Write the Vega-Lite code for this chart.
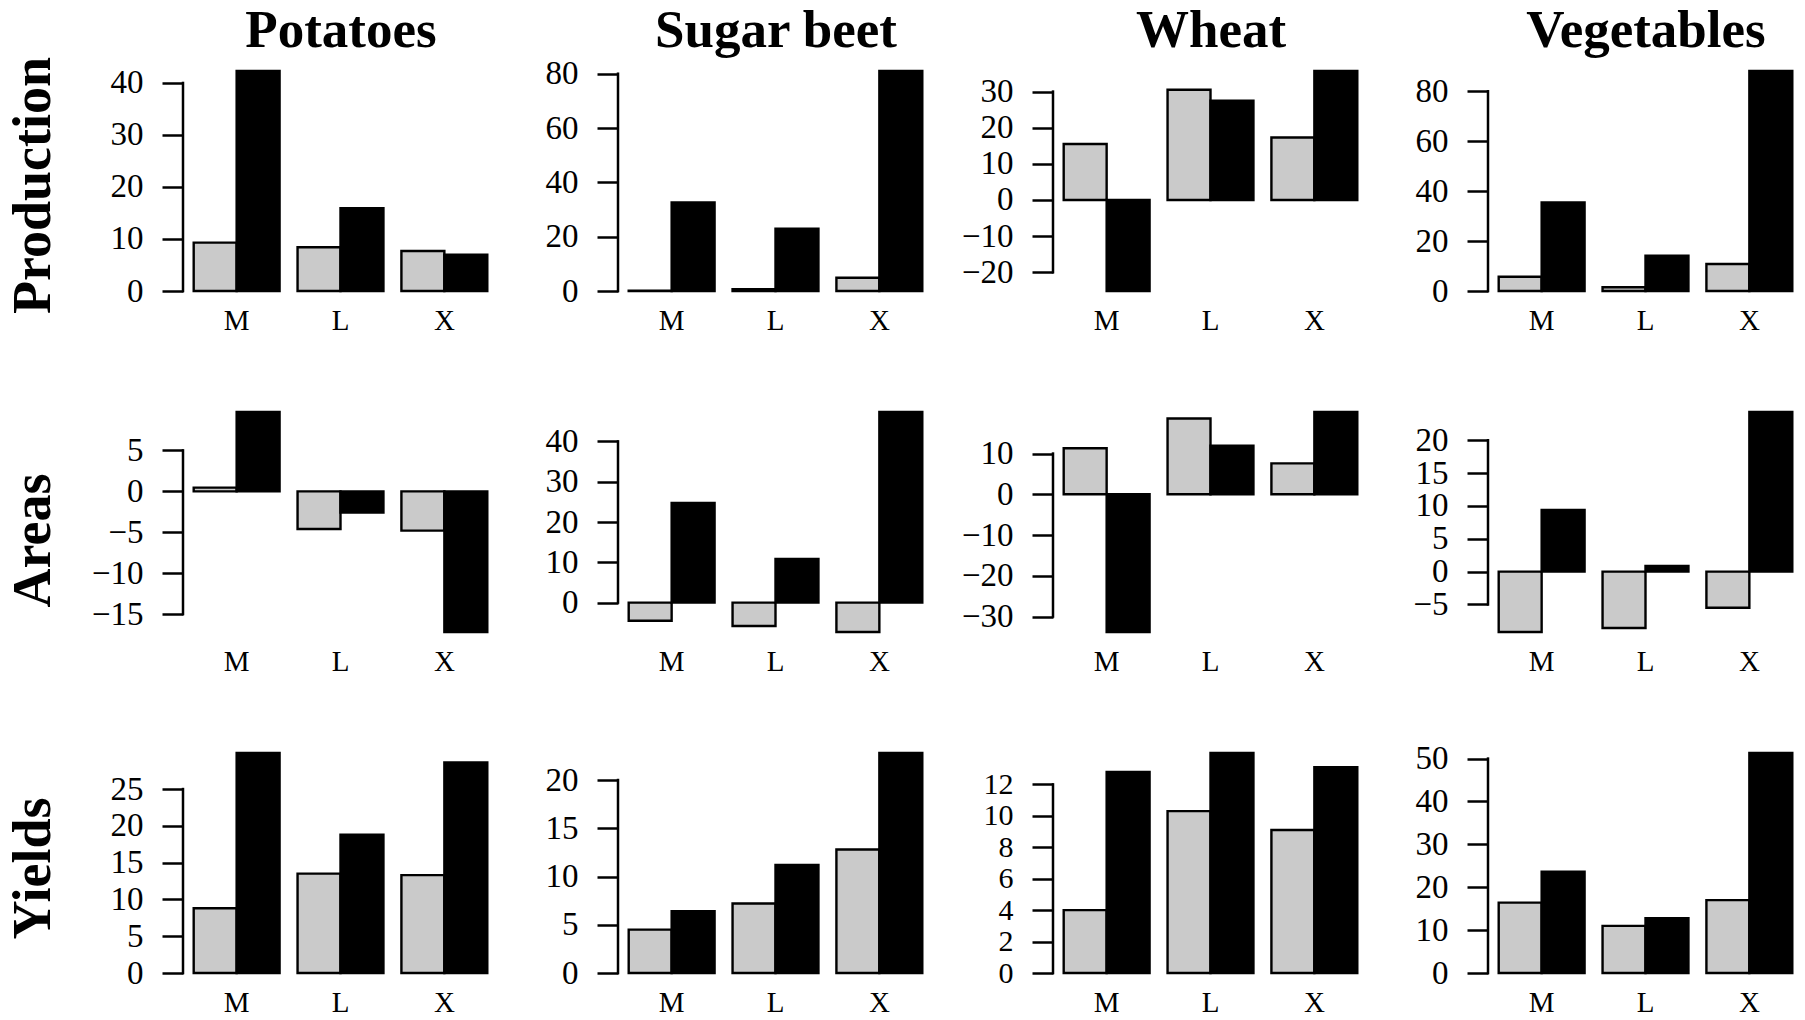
{
  "$schema": "https://vega.github.io/schema/vega-lite/v6.json",
  "padding": {"left": 5, "top": 4, "right": 0, "bottom": 0},
  "background": "white",
  "data": {
    "values": [
      {"crop": "Potatoes", "measure": "Production", "group": "M", "series": "A", "value": 9.3},
      {"crop": "Potatoes", "measure": "Production", "group": "M", "series": "B", "value": 42.3},
      {"crop": "Potatoes", "measure": "Production", "group": "L", "series": "A", "value": 8.4},
      {"crop": "Potatoes", "measure": "Production", "group": "L", "series": "B", "value": 15.9},
      {"crop": "Potatoes", "measure": "Production", "group": "X", "series": "A", "value": 7.7},
      {"crop": "Potatoes", "measure": "Production", "group": "X", "series": "B", "value": 7.0},
      {"crop": "Sugar beet", "measure": "Production", "group": "M", "series": "A", "value": 0.1},
      {"crop": "Sugar beet", "measure": "Production", "group": "M", "series": "B", "value": 32.6},
      {"crop": "Sugar beet", "measure": "Production", "group": "L", "series": "A", "value": 0.7},
      {"crop": "Sugar beet", "measure": "Production", "group": "L", "series": "B", "value": 22.9},
      {"crop": "Sugar beet", "measure": "Production", "group": "X", "series": "A", "value": 4.9},
      {"crop": "Sugar beet", "measure": "Production", "group": "X", "series": "B", "value": 81.0},
      {"crop": "Wheat", "measure": "Production", "group": "M", "series": "A", "value": 15.5},
      {"crop": "Wheat", "measure": "Production", "group": "M", "series": "B", "value": -25.2},
      {"crop": "Wheat", "measure": "Production", "group": "L", "series": "A", "value": 30.5},
      {"crop": "Wheat", "measure": "Production", "group": "L", "series": "B", "value": 27.5},
      {"crop": "Wheat", "measure": "Production", "group": "X", "series": "A", "value": 17.3},
      {"crop": "Wheat", "measure": "Production", "group": "X", "series": "B", "value": 35.7},
      {"crop": "Vegetables", "measure": "Production", "group": "M", "series": "A", "value": 5.7},
      {"crop": "Vegetables", "measure": "Production", "group": "M", "series": "B", "value": 35.5},
      {"crop": "Vegetables", "measure": "Production", "group": "L", "series": "A", "value": 1.5},
      {"crop": "Vegetables", "measure": "Production", "group": "L", "series": "B", "value": 14.1},
      {"crop": "Vegetables", "measure": "Production", "group": "X", "series": "A", "value": 10.8},
      {"crop": "Vegetables", "measure": "Production", "group": "X", "series": "B", "value": 88.1},
      {"crop": "Potatoes", "measure": "Areas", "group": "M", "series": "A", "value": 0.45},
      {"crop": "Potatoes", "measure": "Areas", "group": "M", "series": "B", "value": 9.7},
      {"crop": "Potatoes", "measure": "Areas", "group": "L", "series": "A", "value": -4.6},
      {"crop": "Potatoes", "measure": "Areas", "group": "L", "series": "B", "value": -2.6},
      {"crop": "Potatoes", "measure": "Areas", "group": "X", "series": "A", "value": -4.8},
      {"crop": "Potatoes", "measure": "Areas", "group": "X", "series": "B", "value": -17.2},
      {"crop": "Sugar beet", "measure": "Areas", "group": "M", "series": "A", "value": -4.5},
      {"crop": "Sugar beet", "measure": "Areas", "group": "M", "series": "B", "value": 24.7},
      {"crop": "Sugar beet", "measure": "Areas", "group": "L", "series": "A", "value": -5.8},
      {"crop": "Sugar beet", "measure": "Areas", "group": "L", "series": "B", "value": 10.8},
      {"crop": "Sugar beet", "measure": "Areas", "group": "X", "series": "A", "value": -7.3},
      {"crop": "Sugar beet", "measure": "Areas", "group": "X", "series": "B", "value": 47.3},
      {"crop": "Wheat", "measure": "Areas", "group": "M", "series": "A", "value": 11.3},
      {"crop": "Wheat", "measure": "Areas", "group": "M", "series": "B", "value": -33.8},
      {"crop": "Wheat", "measure": "Areas", "group": "L", "series": "A", "value": 18.6},
      {"crop": "Wheat", "measure": "Areas", "group": "L", "series": "B", "value": 11.9},
      {"crop": "Wheat", "measure": "Areas", "group": "X", "series": "A", "value": 7.6},
      {"crop": "Wheat", "measure": "Areas", "group": "X", "series": "B", "value": 20.2},
      {"crop": "Vegetables", "measure": "Areas", "group": "M", "series": "A", "value": -9.2},
      {"crop": "Vegetables", "measure": "Areas", "group": "M", "series": "B", "value": 9.4},
      {"crop": "Vegetables", "measure": "Areas", "group": "L", "series": "A", "value": -8.6},
      {"crop": "Vegetables", "measure": "Areas", "group": "L", "series": "B", "value": 0.85},
      {"crop": "Vegetables", "measure": "Areas", "group": "X", "series": "A", "value": -5.5},
      {"crop": "Vegetables", "measure": "Areas", "group": "X", "series": "B", "value": 24.3},
      {"crop": "Potatoes", "measure": "Yields", "group": "M", "series": "A", "value": 8.8},
      {"crop": "Potatoes", "measure": "Yields", "group": "M", "series": "B", "value": 29.9},
      {"crop": "Potatoes", "measure": "Yields", "group": "L", "series": "A", "value": 13.5},
      {"crop": "Potatoes", "measure": "Yields", "group": "L", "series": "B", "value": 18.8},
      {"crop": "Potatoes", "measure": "Yields", "group": "X", "series": "A", "value": 13.3},
      {"crop": "Potatoes", "measure": "Yields", "group": "X", "series": "B", "value": 28.6},
      {"crop": "Sugar beet", "measure": "Yields", "group": "M", "series": "A", "value": 4.5},
      {"crop": "Sugar beet", "measure": "Yields", "group": "M", "series": "B", "value": 6.4},
      {"crop": "Sugar beet", "measure": "Yields", "group": "L", "series": "A", "value": 7.2},
      {"crop": "Sugar beet", "measure": "Yields", "group": "L", "series": "B", "value": 11.2},
      {"crop": "Sugar beet", "measure": "Yields", "group": "X", "series": "A", "value": 12.8},
      {"crop": "Sugar beet", "measure": "Yields", "group": "X", "series": "B", "value": 22.8},
      {"crop": "Wheat", "measure": "Yields", "group": "M", "series": "A", "value": 4.0},
      {"crop": "Wheat", "measure": "Yields", "group": "M", "series": "B", "value": 12.8},
      {"crop": "Wheat", "measure": "Yields", "group": "L", "series": "A", "value": 10.3},
      {"crop": "Wheat", "measure": "Yields", "group": "L", "series": "B", "value": 14.0},
      {"crop": "Wheat", "measure": "Yields", "group": "X", "series": "A", "value": 9.1},
      {"crop": "Wheat", "measure": "Yields", "group": "X", "series": "B", "value": 13.1},
      {"crop": "Vegetables", "measure": "Yields", "group": "M", "series": "A", "value": 16.4},
      {"crop": "Vegetables", "measure": "Yields", "group": "M", "series": "B", "value": 23.6},
      {"crop": "Vegetables", "measure": "Yields", "group": "L", "series": "A", "value": 11.0},
      {"crop": "Vegetables", "measure": "Yields", "group": "L", "series": "B", "value": 12.8},
      {"crop": "Vegetables", "measure": "Yields", "group": "X", "series": "A", "value": 17.0},
      {"crop": "Vegetables", "measure": "Yields", "group": "X", "series": "B", "value": 51.3}
    ]
  },
  "columns": 4,
  "align": "all",
  "spacing": {"row": 66, "column": 28},
  "concat": [
    {
      "width": 315, "height": 220,
      "layer": [
        {
          "transform": [{"filter": "datum.crop === 'Potatoes' && datum.measure === 'Production'"}],
          "mark": {"type": "bar", "stroke": "black", "strokeWidth": 2.4},
          "encoding": {
            "x": {"field": "group", "type": "nominal", "sort": ["M", "L", "X"], "scale": {"paddingInner": 0.173, "paddingOuter": 0.103}, "axis": {"title": null}},
            "xOffset": {"field": "series", "type": "nominal", "sort": ["A", "B"]},
            "y": {"field": "value", "type": "quantitative", "scale": {"nice": false, "zero": true},
                  "axis": {"values": [0, 10, 20, 30, 40], "title": "Production", "titleX": -134, "titleY": 114, "titleAngle": 270, "titleBaseline": "alphabetic", "titleAlign": "center"}},
            "fill": {"field": "series", "type": "nominal", "scale": {"domain": ["A", "B"], "range": ["#cacaca", "#000000"]}, "legend": null}
          }
        },
        {
          "data": {"values": [{}]},
          "mark": {"type": "rule", "stroke": "black", "strokeWidth": 2.5, "strokeCap": "square"},
          "encoding": {
            "x": {"datum": 0, "type": "quantitative", "scale": {"domain": [0, 1]},
                  "axis": {"orient": "top", "title": "Potatoes", "labels": false, "ticks": false, "domain": false, "titleFontSize": 53, "titleFontWeight": "bold", "titleBaseline": "alphabetic", "titleY": -25, "titlePadding": 0}},
            "y": {"datum": 0, "type": "quantitative"},
            "y2": {"datum": 40}
          }
        }
      ],
      "resolve": {"scale": {"x": "independent"}}
    },
    {
      "width": 315, "height": 220,
      "layer": [
        {
          "transform": [{"filter": "datum.crop === 'Sugar beet' && datum.measure === 'Production'"}],
          "mark": {"type": "bar", "stroke": "black", "strokeWidth": 2.4},
          "encoding": {
            "x": {"field": "group", "type": "nominal", "sort": ["M", "L", "X"], "scale": {"paddingInner": 0.173, "paddingOuter": 0.103}, "axis": {"title": null}},
            "xOffset": {"field": "series", "type": "nominal", "sort": ["A", "B"]},
            "y": {"field": "value", "type": "quantitative", "scale": {"nice": false, "zero": true}, "axis": {"values": [0, 20, 40, 60, 80], "title": null}},
            "fill": {"field": "series", "type": "nominal", "scale": {"domain": ["A", "B"], "range": ["#cacaca", "#000000"]}, "legend": null}
          }
        },
        {
          "data": {"values": [{}]},
          "mark": {"type": "rule", "stroke": "black", "strokeWidth": 2.5, "strokeCap": "square"},
          "encoding": {
            "x": {"datum": 0, "type": "quantitative", "scale": {"domain": [0, 1]},
                  "axis": {"orient": "top", "title": "Sugar beet", "labels": false, "ticks": false, "domain": false, "titleFontSize": 53, "titleFontWeight": "bold", "titleBaseline": "alphabetic", "titleY": -25, "titlePadding": 0}},
            "y": {"datum": 0, "type": "quantitative"},
            "y2": {"datum": 80}
          }
        }
      ],
      "resolve": {"scale": {"x": "independent"}}
    },
    {
      "width": 315, "height": 220,
      "layer": [
        {
          "transform": [{"filter": "datum.crop === 'Wheat' && datum.measure === 'Production'"}],
          "mark": {"type": "bar", "stroke": "black", "strokeWidth": 2.4},
          "encoding": {
            "x": {"field": "group", "type": "nominal", "sort": ["M", "L", "X"], "scale": {"paddingInner": 0.173, "paddingOuter": 0.103}, "axis": {"title": null}},
            "xOffset": {"field": "series", "type": "nominal", "sort": ["A", "B"]},
            "y": {"field": "value", "type": "quantitative", "scale": {"nice": false, "zero": true}, "axis": {"values": [-20, -10, 0, 10, 20, 30], "title": null}},
            "fill": {"field": "series", "type": "nominal", "scale": {"domain": ["A", "B"], "range": ["#cacaca", "#000000"]}, "legend": null}
          }
        },
        {
          "data": {"values": [{}]},
          "mark": {"type": "rule", "stroke": "black", "strokeWidth": 2.5, "strokeCap": "square"},
          "encoding": {
            "x": {"datum": 0, "type": "quantitative", "scale": {"domain": [0, 1]},
                  "axis": {"orient": "top", "title": "Wheat", "labels": false, "ticks": false, "domain": false, "titleFontSize": 53, "titleFontWeight": "bold", "titleBaseline": "alphabetic", "titleY": -25, "titlePadding": 0}},
            "y": {"datum": -20, "type": "quantitative"},
            "y2": {"datum": 30}
          }
        }
      ],
      "resolve": {"scale": {"x": "independent"}}
    },
    {
      "width": 315, "height": 220,
      "layer": [
        {
          "transform": [{"filter": "datum.crop === 'Vegetables' && datum.measure === 'Production'"}],
          "mark": {"type": "bar", "stroke": "black", "strokeWidth": 2.4},
          "encoding": {
            "x": {"field": "group", "type": "nominal", "sort": ["M", "L", "X"], "scale": {"paddingInner": 0.173, "paddingOuter": 0.103}, "axis": {"title": null}},
            "xOffset": {"field": "series", "type": "nominal", "sort": ["A", "B"]},
            "y": {"field": "value", "type": "quantitative", "scale": {"nice": false, "zero": true}, "axis": {"values": [0, 20, 40, 60, 80], "title": null}},
            "fill": {"field": "series", "type": "nominal", "scale": {"domain": ["A", "B"], "range": ["#cacaca", "#000000"]}, "legend": null}
          }
        },
        {
          "data": {"values": [{}]},
          "mark": {"type": "rule", "stroke": "black", "strokeWidth": 2.5, "strokeCap": "square"},
          "encoding": {
            "x": {"datum": 0, "type": "quantitative", "scale": {"domain": [0, 1]},
                  "axis": {"orient": "top", "title": "Vegetables", "labels": false, "ticks": false, "domain": false, "titleFontSize": 53, "titleFontWeight": "bold", "titleBaseline": "alphabetic", "titleY": -25, "titlePadding": 0}},
            "y": {"datum": 0, "type": "quantitative"},
            "y2": {"datum": 80}
          }
        }
      ],
      "resolve": {"scale": {"x": "independent"}}
    },
    {
      "width": 315, "height": 220,
      "layer": [
        {
          "transform": [{"filter": "datum.crop === 'Potatoes' && datum.measure === 'Areas'"}],
          "mark": {"type": "bar", "stroke": "black", "strokeWidth": 2.4},
          "encoding": {
            "x": {"field": "group", "type": "nominal", "sort": ["M", "L", "X"], "scale": {"paddingInner": 0.173, "paddingOuter": 0.103}, "axis": {"title": null}},
            "xOffset": {"field": "series", "type": "nominal", "sort": ["A", "B"]},
            "y": {"field": "value", "type": "quantitative", "scale": {"nice": false, "zero": true},
                  "axis": {"values": [-15, -10, -5, 0, 5], "title": "Areas", "titleX": -134, "titleY": 128, "titleAngle": 270, "titleBaseline": "alphabetic", "titleAlign": "center"}},
            "fill": {"field": "series", "type": "nominal", "scale": {"domain": ["A", "B"], "range": ["#cacaca", "#000000"]}, "legend": null}
          }
        },
        {
          "data": {"values": [{}]},
          "mark": {"type": "rule", "stroke": "black", "strokeWidth": 2.5, "strokeCap": "square"},
          "encoding": {
            "x": {"datum": 0, "type": "quantitative", "scale": {"domain": [0, 1]}, "axis": null},
            "y": {"datum": -15, "type": "quantitative"},
            "y2": {"datum": 5}
          }
        }
      ],
      "resolve": {"scale": {"x": "independent"}}
    },
    {
      "width": 315, "height": 220,
      "layer": [
        {
          "transform": [{"filter": "datum.crop === 'Sugar beet' && datum.measure === 'Areas'"}],
          "mark": {"type": "bar", "stroke": "black", "strokeWidth": 2.4},
          "encoding": {
            "x": {"field": "group", "type": "nominal", "sort": ["M", "L", "X"], "scale": {"paddingInner": 0.173, "paddingOuter": 0.103}, "axis": {"title": null}},
            "xOffset": {"field": "series", "type": "nominal", "sort": ["A", "B"]},
            "y": {"field": "value", "type": "quantitative", "scale": {"nice": false, "zero": true}, "axis": {"values": [0, 10, 20, 30, 40], "title": null}},
            "fill": {"field": "series", "type": "nominal", "scale": {"domain": ["A", "B"], "range": ["#cacaca", "#000000"]}, "legend": null}
          }
        },
        {
          "data": {"values": [{}]},
          "mark": {"type": "rule", "stroke": "black", "strokeWidth": 2.5, "strokeCap": "square"},
          "encoding": {
            "x": {"datum": 0, "type": "quantitative", "scale": {"domain": [0, 1]}, "axis": null},
            "y": {"datum": 0, "type": "quantitative"},
            "y2": {"datum": 40}
          }
        }
      ],
      "resolve": {"scale": {"x": "independent"}}
    },
    {
      "width": 315, "height": 220,
      "layer": [
        {
          "transform": [{"filter": "datum.crop === 'Wheat' && datum.measure === 'Areas'"}],
          "mark": {"type": "bar", "stroke": "black", "strokeWidth": 2.4},
          "encoding": {
            "x": {"field": "group", "type": "nominal", "sort": ["M", "L", "X"], "scale": {"paddingInner": 0.173, "paddingOuter": 0.103}, "axis": {"title": null}},
            "xOffset": {"field": "series", "type": "nominal", "sort": ["A", "B"]},
            "y": {"field": "value", "type": "quantitative", "scale": {"nice": false, "zero": true}, "axis": {"values": [-30, -20, -10, 0, 10], "title": null}},
            "fill": {"field": "series", "type": "nominal", "scale": {"domain": ["A", "B"], "range": ["#cacaca", "#000000"]}, "legend": null}
          }
        },
        {
          "data": {"values": [{}]},
          "mark": {"type": "rule", "stroke": "black", "strokeWidth": 2.5, "strokeCap": "square"},
          "encoding": {
            "x": {"datum": 0, "type": "quantitative", "scale": {"domain": [0, 1]}, "axis": null},
            "y": {"datum": -30, "type": "quantitative"},
            "y2": {"datum": 10}
          }
        }
      ],
      "resolve": {"scale": {"x": "independent"}}
    },
    {
      "width": 315, "height": 220,
      "layer": [
        {
          "transform": [{"filter": "datum.crop === 'Vegetables' && datum.measure === 'Areas'"}],
          "mark": {"type": "bar", "stroke": "black", "strokeWidth": 2.4},
          "encoding": {
            "x": {"field": "group", "type": "nominal", "sort": ["M", "L", "X"], "scale": {"paddingInner": 0.173, "paddingOuter": 0.103}, "axis": {"title": null}},
            "xOffset": {"field": "series", "type": "nominal", "sort": ["A", "B"]},
            "y": {"field": "value", "type": "quantitative", "scale": {"nice": false, "zero": true}, "axis": {"values": [-5, 0, 5, 10, 15, 20], "title": null}},
            "fill": {"field": "series", "type": "nominal", "scale": {"domain": ["A", "B"], "range": ["#cacaca", "#000000"]}, "legend": null}
          }
        },
        {
          "data": {"values": [{}]},
          "mark": {"type": "rule", "stroke": "black", "strokeWidth": 2.5, "strokeCap": "square"},
          "encoding": {
            "x": {"datum": 0, "type": "quantitative", "scale": {"domain": [0, 1]}, "axis": null},
            "y": {"datum": -5, "type": "quantitative"},
            "y2": {"datum": 20}
          }
        }
      ],
      "resolve": {"scale": {"x": "independent"}}
    },
    {
      "width": 315, "height": 220,
      "layer": [
        {
          "transform": [{"filter": "datum.crop === 'Potatoes' && datum.measure === 'Yields'"}],
          "mark": {"type": "bar", "stroke": "black", "strokeWidth": 2.4},
          "encoding": {
            "x": {"field": "group", "type": "nominal", "sort": ["M", "L", "X"], "scale": {"paddingInner": 0.173, "paddingOuter": 0.103}, "axis": {"title": null}},
            "xOffset": {"field": "series", "type": "nominal", "sort": ["A", "B"]},
            "y": {"field": "value", "type": "quantitative", "scale": {"nice": false, "zero": true},
                  "axis": {"values": [0, 5, 10, 15, 20, 25], "title": "Yields", "titleX": -134, "titleY": 115, "titleAngle": 270, "titleBaseline": "alphabetic", "titleAlign": "center"}},
            "fill": {"field": "series", "type": "nominal", "scale": {"domain": ["A", "B"], "range": ["#cacaca", "#000000"]}, "legend": null}
          }
        },
        {
          "data": {"values": [{}]},
          "mark": {"type": "rule", "stroke": "black", "strokeWidth": 2.5, "strokeCap": "square"},
          "encoding": {
            "x": {"datum": 0, "type": "quantitative", "scale": {"domain": [0, 1]}, "axis": null},
            "y": {"datum": 0, "type": "quantitative"},
            "y2": {"datum": 25}
          }
        }
      ],
      "resolve": {"scale": {"x": "independent"}}
    },
    {
      "width": 315, "height": 220,
      "layer": [
        {
          "transform": [{"filter": "datum.crop === 'Sugar beet' && datum.measure === 'Yields'"}],
          "mark": {"type": "bar", "stroke": "black", "strokeWidth": 2.4},
          "encoding": {
            "x": {"field": "group", "type": "nominal", "sort": ["M", "L", "X"], "scale": {"paddingInner": 0.173, "paddingOuter": 0.103}, "axis": {"title": null}},
            "xOffset": {"field": "series", "type": "nominal", "sort": ["A", "B"]},
            "y": {"field": "value", "type": "quantitative", "scale": {"nice": false, "zero": true}, "axis": {"values": [0, 5, 10, 15, 20], "title": null}},
            "fill": {"field": "series", "type": "nominal", "scale": {"domain": ["A", "B"], "range": ["#cacaca", "#000000"]}, "legend": null}
          }
        },
        {
          "data": {"values": [{}]},
          "mark": {"type": "rule", "stroke": "black", "strokeWidth": 2.5, "strokeCap": "square"},
          "encoding": {
            "x": {"datum": 0, "type": "quantitative", "scale": {"domain": [0, 1]}, "axis": null},
            "y": {"datum": 0, "type": "quantitative"},
            "y2": {"datum": 20}
          }
        }
      ],
      "resolve": {"scale": {"x": "independent"}}
    },
    {
      "width": 315, "height": 220,
      "layer": [
        {
          "transform": [{"filter": "datum.crop === 'Wheat' && datum.measure === 'Yields'"}],
          "mark": {"type": "bar", "stroke": "black", "strokeWidth": 2.4},
          "encoding": {
            "x": {"field": "group", "type": "nominal", "sort": ["M", "L", "X"], "scale": {"paddingInner": 0.173, "paddingOuter": 0.103}, "axis": {"title": null}},
            "xOffset": {"field": "series", "type": "nominal", "sort": ["A", "B"]},
            "y": {"field": "value", "type": "quantitative", "scale": {"nice": false, "zero": true}, "axis": {"values": [0, 2, 4, 6, 8, 10, 12], "title": null, "labelFontSize": 30}},
            "fill": {"field": "series", "type": "nominal", "scale": {"domain": ["A", "B"], "range": ["#cacaca", "#000000"]}, "legend": null}
          }
        },
        {
          "data": {"values": [{}]},
          "mark": {"type": "rule", "stroke": "black", "strokeWidth": 2.5, "strokeCap": "square"},
          "encoding": {
            "x": {"datum": 0, "type": "quantitative", "scale": {"domain": [0, 1]}, "axis": null},
            "y": {"datum": 0, "type": "quantitative"},
            "y2": {"datum": 12}
          }
        }
      ],
      "resolve": {"scale": {"x": "independent"}}
    },
    {
      "width": 315, "height": 220,
      "layer": [
        {
          "transform": [{"filter": "datum.crop === 'Vegetables' && datum.measure === 'Yields'"}],
          "mark": {"type": "bar", "stroke": "black", "strokeWidth": 2.4},
          "encoding": {
            "x": {"field": "group", "type": "nominal", "sort": ["M", "L", "X"], "scale": {"paddingInner": 0.173, "paddingOuter": 0.103}, "axis": {"title": null}},
            "xOffset": {"field": "series", "type": "nominal", "sort": ["A", "B"]},
            "y": {"field": "value", "type": "quantitative", "scale": {"nice": false, "zero": true}, "axis": {"values": [0, 10, 20, 30, 40, 50], "title": null}},
            "fill": {"field": "series", "type": "nominal", "scale": {"domain": ["A", "B"], "range": ["#cacaca", "#000000"]}, "legend": null}
          }
        },
        {
          "data": {"values": [{}]},
          "mark": {"type": "rule", "stroke": "black", "strokeWidth": 2.5, "strokeCap": "square"},
          "encoding": {
            "x": {"datum": 0, "type": "quantitative", "scale": {"domain": [0, 1]}, "axis": null},
            "y": {"datum": 0, "type": "quantitative"},
            "y2": {"datum": 50}
          }
        }
      ],
      "resolve": {"scale": {"x": "independent"}}
    }
  ],
  "config": {
    "view": {"stroke": null},
    "font": "Liberation Serif",
    "axis": {"labelFont": "Liberation Serif", "titleFont": "Liberation Serif", "labelColor": "black", "titleColor": "black", "grid": false},
    "axisX": {"domain": false, "ticks": false, "tickSize": 0, "labelFontSize": 29, "labelPadding": 15, "labelAngle": 0},
    "axisY": {"domain": false, "ticks": true, "tickSize": 21, "tickWidth": 2.5, "tickColor": "black", "tickCount": 20, "format": "d", "labelFontSize": 33, "labelPadding": 19, "labelOverlap": false, "labelFlush": false, "titleFontSize": 54, "titleFontWeight": "bold", "titlePadding": 0}
  }
}
